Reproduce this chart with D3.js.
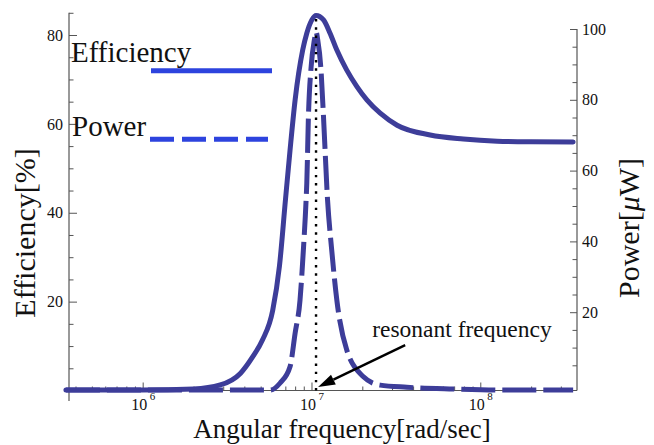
<!DOCTYPE html>
<html>
<head>
<meta charset="utf-8">
<script src="https://cdn.jsdelivr.net/npm/d3@7"></script>
<style>
  html, body { margin: 0; padding: 0; background: #fff; }
  svg { display: block; font-family: "Liberation Serif", "DejaVu Serif", serif; }
</style>
</head>
<body>
<svg id="chart" width="654" height="445"></svg>
<script>
// angular frequency (rad/sec) and efficiency (%)
const effOmega = [3.51e5, 1.0e6, 2.0e6, 2.88e6, 3.80e6, 4.47e6, 5.13e6, 5.89e6, 6.46e6, 7.01e6,
  7.46e6, 8.00e6, 8.87e6, 9.38e6, 1.005e7, 1.064e7, 1.178e7, 1.288e7, 1.413e7, 1.618e7,
  1.858e7, 2.128e7, 2.553e7, 3.214e7, 5.047e7, 7.94e7, 1.259e8, 1.995e8, 3.548e8];
const effValues = [0.1, 0.1, 0.35, 1.25, 3.9, 7.5, 11.4, 18.0, 28.0, 42.9,
  54.0, 65.4, 76.6, 80.4, 83.4, 84.4, 83.4, 80.4, 76.6, 72.1,
  68.4, 65.4, 62.4, 59.7, 57.5, 56.6, 56.1, 55.95, 55.9];

// angular frequency (rad/sec) and power (µW)
const powOmega = [3.51e5, 3.16e6, 5.69e6, 6.52e6, 7.46e6, 8.00e6, 8.55e6, 8.95e6, 9.29e6, 9.38e6,
  9.59e6, 9.95e6, 1.040e7, 1.064e7, 1.089e7, 1.135e7, 1.178e7, 1.245e7, 1.318e7, 1.413e7,
  1.618e7, 2.032e7, 2.553e7, 3.673e7, 6.902e7, 1.312e8, 3.548e8];
const powValues = [-2, -2, -2, 0, 4.6, 14.1, 23.4, 37.5, 51.7, 56.5,
  75.2, 89.3, 96.9, 99.2, 96.9, 89.3, 75.2, 51.7, 37.5, 23.4,
  9.3, 1.75, -0.6, -1.2, -1.7, -2, -2];

const resonantOmega = 1.064e7;
const xMajorTicks = [1e6, 1e7, 1e8];
const effMajorTicks = [20, 40, 60, 80];
const powMajorTicks = [20, 40, 60, 80, 100];

const curveColor = "#3d3d99";
const legendColor = "#2d43de";
const axisColor = "#555";

const svg = d3.select("#chart");

const x = d3.scaleLog().domain([3.66e5, 3.74e8]).range([69, 577]);
const yEff = d3.scaleLinear().domain([0, 80]).range([390.5, 35]);
const yPow = d3.scaleLinear().domain([0, 100]).range([383, 29]);

// --- minor tick values ---
const xMinor = [];
for (let e = 5; e <= 8; e++) for (let m = 2; m <= 9; m++) {
  const v = m * Math.pow(10, e);
  if (v > x.domain()[0] && v < x.domain()[1]) xMinor.push(v);
}
const effMinor = d3.range(5, 86, 5).filter(v => v % 20 !== 0);
const powMinor = d3.range(5, 100, 5).filter(v => v % 20 !== 0);

function styleAxis(g) {
  g.select(".domain").remove();
  g.selectAll("line").attr("stroke", axisColor).attr("stroke-width", 1);
  g.selectAll("text").attr("fill", "#111").attr("font-size", 16)
    .attr("font-family", "'Liberation Serif', serif");
}

// axis lines
svg.append("line").attr("x1", 69).attr("x2", 69).attr("y1", yEff(85)).attr("y2", 401)
  .attr("stroke", axisColor).attr("stroke-width", 1.2);
svg.append("line").attr("x1", 577).attr("x2", 577).attr("y1", yPow(100)).attr("y2", 390.5)
  .attr("stroke", axisColor).attr("stroke-width", 1.2);
svg.append("line").attr("x1", 69).attr("x2", 577).attr("y1", 390.5).attr("y2", 390.5)
  .attr("stroke", axisColor).attr("stroke-width", 1.2);

// left axis
svg.append("g").attr("transform", "translate(69,0)")
  .call(d3.axisLeft(yEff).tickValues(effMajorTicks).tickSize(-8).tickPadding(6).tickFormat(d3.format("d")))
  .call(styleAxis);
svg.append("g").attr("transform", "translate(69,0)")
  .call(d3.axisLeft(yEff).tickValues(effMinor).tickSize(-4.5).tickFormat(""))
  .call(styleAxis);

// right axis
svg.append("g").attr("transform", "translate(577,0)")
  .call(d3.axisRight(yPow).tickValues(powMajorTicks).tickSize(-7).tickPadding(5).tickFormat(d3.format("d")))
  .call(styleAxis);
svg.append("g").attr("transform", "translate(577,0)")
  .call(d3.axisRight(yPow).tickValues(powMinor).tickSize(-4.5).tickFormat(""))
  .call(styleAxis);

// bottom axis: tick marks from d3, power-of-ten labels drawn as base + exponent
svg.append("g").attr("transform", "translate(0,390.5)")
  .call(d3.axisBottom(x).tickValues(xMajorTicks).tickSize(-8).tickFormat(""))
  .call(styleAxis);
svg.append("g").attr("transform", "translate(0,390.5)")
  .call(d3.axisBottom(x).tickValues(xMinor).tickSize(-4).tickFormat(""))
  .call(styleAxis);
const xLabels = svg.append("g").attr("fill", "#111");
xLabels.selectAll("text.base").data(xMajorTicks).join("text").attr("class", "base")
  .attr("x", d => x(d) + 4.5).attr("y", 409.5).attr("text-anchor", "end")
  .attr("font-size", 16).text("10");
xLabels.selectAll("text.exp").data(xMajorTicks).join("text").attr("class", "exp")
  .attr("x", d => x(d) + 7).attr("y", 400).attr("text-anchor", "start")
  .attr("font-size", 11).text(d => String(Math.round(Math.log10(d))));

// curves
const effLine = d3.line()
  .x((d, i) => x(effOmega[i]))
  .y(d => yEff(d))
  .curve(d3.curveMonotoneX);
const powLine = d3.line()
  .x((d, i) => x(powOmega[i]))
  .y(d => yPow(d))
  .curve(d3.curveMonotoneX);

svg.append("path").attr("d", effLine(effValues))
  .attr("fill", "none").attr("stroke", curveColor).attr("stroke-width", 5)
  .attr("stroke-linecap", "round").attr("stroke-linejoin", "round");
svg.append("path").attr("d", powLine(powValues))
  .attr("fill", "none").attr("stroke", curveColor).attr("stroke-width", 5)
  .attr("stroke-dasharray", "34,7").attr("stroke-linejoin", "round");

// resonance marker
svg.append("line")
  .attr("x1", x(resonantOmega)).attr("x2", x(resonantOmega))
  .attr("y1", yEff(0)).attr("y2", yEff(84.2))
  .attr("stroke", "#000").attr("stroke-width", 2.4).attr("stroke-dasharray", "2.4,5.8");

// arrow annotation
const tail = [x(3.59e7), yEff(10.2)];
const tip = [x(1.094e7), yEff(0.8)];
const ang = Math.atan2(tip[1] - tail[1], tip[0] - tail[0]);
const headLen = 17, headW = 5.5;
const base = [tip[0] - headLen * Math.cos(ang), tip[1] - headLen * Math.sin(ang)];
svg.append("line").attr("x1", tail[0]).attr("y1", tail[1]).attr("x2", base[0]).attr("y2", base[1])
  .attr("stroke", "#000").attr("stroke-width", 2.4);
svg.append("path")
  .attr("d", `M${tip[0]},${tip[1]}L${base[0] + headW * Math.sin(ang)},${base[1] - headW * Math.cos(ang)}L${base[0] - headW * Math.sin(ang)},${base[1] + headW * Math.cos(ang)}Z`)
  .attr("fill", "#000");
svg.append("text").attr("x", x(2.29e7)).attr("y", yEff(12.0))
  .attr("font-size", 23.5).attr("fill", "#111").text("resonant frequency");

// legend
svg.append("text").attr("x", 71).attr("y", 62).attr("font-size", 29).attr("fill", "#111").text("Efficiency");
svg.append("line").attr("x1", 151).attr("x2", 272).attr("y1", 70.7).attr("y2", 70.7)
  .attr("stroke", legendColor).attr("stroke-width", 5);
svg.append("text").attr("x", 72).attr("y", 136).attr("font-size", 29).attr("fill", "#111").text("Power");
svg.append("line").attr("x1", 150).attr("x2", 268).attr("y1", 139.3).attr("y2", 139.3)
  .attr("stroke", legendColor).attr("stroke-width", 5).attr("stroke-dasharray", "24,8");

// axis titles
svg.append("text").attr("transform", "translate(35,233) rotate(-90)")
  .attr("text-anchor", "middle").attr("font-size", 30).attr("fill", "#111").text("Efficiency[%]");
const pt = svg.append("text").attr("transform", "translate(639,228) rotate(-90)")
  .attr("text-anchor", "middle").attr("font-size", 30).attr("fill", "#111");
pt.append("tspan").text("Power[");
pt.append("tspan").attr("font-style", "italic").text("μ");
pt.append("tspan").text("W]");
svg.append("text").attr("x", 342).attr("y", 438).attr("text-anchor", "middle")
  .attr("font-size", 27).attr("fill", "#111").text("Angular frequency[rad/sec]");
</script>
</body>
</html>
